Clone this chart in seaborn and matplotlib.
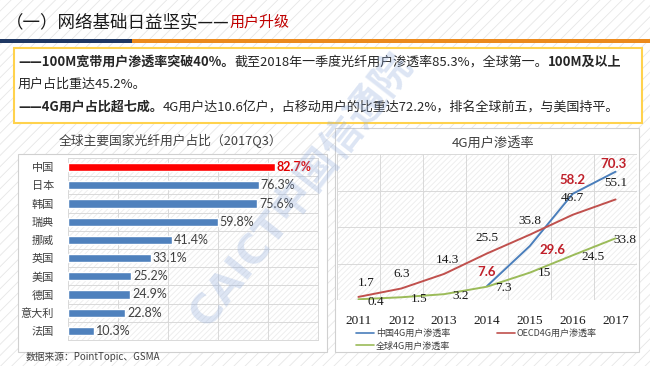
import matplotlib
matplotlib.use("Agg")
import matplotlib.pyplot as plt
from matplotlib.patches import Rectangle
from matplotlib.lines import Line2D
import seaborn as sns
import pandas as pd
import numpy as np

# data
countries = ["中国", "日本", "韩国", "瑞典", "挪威", "英国", "美国", "德国", "意大利", "法国"]
fiber_share = [82.7, 76.3, 75.6, 59.8, 41.4, 33.1, 25.2, 24.9, 22.8, 10.3]

years = [2011, 2012, 2013, 2014, 2015, 2016, 2017]
china_4g = [np.nan, np.nan, np.nan, 7.6, 29.6, 58.2, 70.3]
oecd_4g = [1.7, 6.3, 14.3, 25.5, 35.8, 46.7, 55.1]
global_4g = [0.4, 1.5, 3.2, 7.3, 15, 24.5, 33.8]
series_names = ["中国4G用户渗透率", "OECD4G用户渗透率", "全球4G用户渗透率"]

W, H = 650, 366
CJK = ["Noto Sans CJK SC", "DejaVu Sans"]
SERIF = ["Liberation Serif", "DejaVu Serif"]
LAT = ["Lato", "DejaVu Sans"]
TXT = "#262626"
GRID = "#d9d9d9"

sns.set_theme(style="white")
plt.rcParams["font.family"] = CJK
plt.rcParams["hatch.linewidth"] = 0.6


def fx(x):
    return x / W


def fy(y):
    return 1 - y / H


def box(fig, x0, y0, x1, y1, **kw):
    r = Rectangle((fx(x0), fy(y1)), fx(x1 - x0), (y1 - y0) / H,
                  transform=fig.transFigure, **kw)
    fig.patches.append(r)
    return r


def runs(fig, x, y, parts, size, color=TXT):
    # draw pieces of text one after another on one line
    rend = fig.canvas.get_renderer()
    xf = fx(x)
    for s, bold, col, sz in parts:
        t = fig.text(xf, fy(y), s, fontsize=sz or size, color=col or color,
                     fontweight="bold" if bold else "normal", va="center", ha="left",
                     family=CJK)
        xf += t.get_window_extent(rend).width / fig.bbox.width


fig = plt.figure(figsize=(6.5, 3.66), dpi=100)

# slide background with light stripes
box(fig, 0, 0, W, H, facecolor="white", edgecolor="#e6e6e6", lw=0, hatch="///", zorder=-10)

# title + coloured rule
runs(fig, 6, 22, [("（一）网络基础日益坚实——", False, "#1a1a1a", 12.6),
                  ("用户升级", False, "#c00000", 10.8)], 12)
box(fig, 0, 39, 132, 43, facecolor="#1f3864", lw=0, zorder=-4)
box(fig, 132, 39, W, 43, facecolor="#ec8a1c", lw=0, zorder=-4)

# yellow text box
box(fig, 14, 48, 642, 123, facecolor="white", edgecolor="#ffd24d", lw=1.5, zorder=-5)
runs(fig, 18, 62, [("——100M宽带用户渗透率突破40%。", True, None, None),
                   ("截至2018年一季度光纤用户渗透率85.3%，全球第一。", False, None, None),
                   ("100M及以上", True, None, None)], 9.4)
runs(fig, 18, 84, [("用户占比重达45.2%。", False, None, None)], 9.4)
runs(fig, 18, 107, [("——4G用户占比超七成。", True, None, None),
                    ("4G用户达10.6亿户，占移动用户的比重达72.2%，排名全球前五，与美国持平。",
                     False, None, None)], 9.4)

# chart frames
box(fig, 18, 154, 327, 352, facecolor="white", edgecolor="#d0d0d0", lw=0.8, zorder=-5)
box(fig, 335, 128, 639, 352, facecolor="white", edgecolor="#d0d0d0", lw=0.8, zorder=-5)

# ---- left: fibre share bar chart
ax1 = fig.add_axes([fx(68), fy(340), fx(318 - 68), (340 - 158) / H])
ax1.patch.set_alpha(0)
ax1.add_patch(Rectangle((0, 0), 1, 1, transform=ax1.transAxes, facecolor="white",
                        edgecolor="#ececec", lw=0, hatch="//////", zorder=-1))
df_bar = pd.DataFrame({"country": countries, "share": fiber_share})
bar_colors = ["#ff0000"] + ["#4f81bd"] * (len(countries) - 1)
sns.barplot(data=df_bar, x="share", y="country", hue="country", palette=bar_colors,
            legend=False, width=0.46, saturation=1, ax=ax1, zorder=3)
ax1.set_xlim(0, 100)
ax1.set_ylim(len(countries) - 0.5, -0.5)
ax1.set_xticks(range(0, 101, 20))
ax1.set_xticklabels([])
ax1.set_yticks(np.arange(-0.5, len(countries), 1.0), minor=True)
ax1.grid(True, axis="x", which="major", color=GRID, lw=0.7)
ax1.grid(True, axis="y", which="minor", color=GRID, lw=0.7)
ax1.grid(False, axis="y", which="major")
ax1.tick_params(length=0, which="both", labelsize=8, labelcolor="#404040", pad=10)
ax1.set_xlabel("")
ax1.set_ylabel("")
for sp in ax1.spines.values():
    sp.set_color(GRID)
    sp.set_linewidth(0.7)
for i, v in enumerate(fiber_share):
    first = i == 0
    ax1.annotate(f"{v}%", (v, i), xytext=(1.5, 0), textcoords="offset points",
                 va="center", ha="left", fontsize=9, family=LAT,
                 color="#e00000" if first else "#404040",
                 fontweight="bold" if first else "normal")
fig.text(fx(170), fy(141), "全球主要国家光纤用户占比（2017Q3）", ha="center", va="center",
         fontsize=9.2, color="#404040")
fig.text(fx(26), fy(357), "数据来源：PointTopic、GSMA", ha="left", va="center",
         fontsize=7, color="#404040")

# ---- right: 4G penetration lines
ax2 = fig.add_axes([fx(337), fy(300), fx(637 - 337), (300 - 154) / H])
ax2.patch.set_alpha(0)
ax2.add_patch(Rectangle((0, 0), 1, 1, transform=ax2.transAxes, facecolor="white",
                        edgecolor="#ececec", lw=0, hatch="//////", zorder=-1))
df_line = pd.DataFrame({
    "year": years * 3,
    "value": china_4g + oecd_4g + global_4g,
    "series": [series_names[0]] * 7 + [series_names[1]] * 7 + [series_names[2]] * 7,
})
line_colors = ["#4a7ebb", "#c0504d", "#9bbb59"]
sns.lineplot(data=df_line, x="year", y="value", hue="series", hue_order=series_names,
             palette=line_colors, lw=1.4, legend=False, ax=ax2, zorder=3)
ax2.set_xlim(2010.5, 2017.5)
ax2.set_ylim(0, 80)
ax2.set_xticks(years)
ax2.set_xticks(np.arange(2010.5, 2017.6, 0.5), minor=True)
ax2.set_yticks(range(0, 81, 20))
ax2.set_yticklabels([])
ax2.grid(True, axis="y", which="major", color=GRID, lw=0.7)
ax2.grid(True, axis="x", which="minor", color=GRID, lw=0.7)
ax2.tick_params(length=0, which="both", pad=11)
for lab in ax2.get_xticklabels():
    lab.set_family(SERIF)
    lab.set_fontsize(9.5)
    lab.set_color("#1a1a1a")
ax2.set_xlabel("")
ax2.set_ylabel("")
for sp in ax2.spines.values():
    sp.set_visible(False)

# data labels (offsets in pixels)
px = 0.72
oecd_off = [(8, 14), (0, 15), (3, 14), (0, 15), (0, 14), (0, 17), (0, 16)]
for x, v, (dx, dy) in zip(years, oecd_4g, oecd_off):
    ax2.annotate(f"{v:g}", (x, v), xytext=(dx * px, dy * px), textcoords="offset points",
                 ha="center", va="center", fontsize=9.5, family=SERIF, color="#1a1a1a",
                 annotation_clip=False)
glob_off = [(9, -3), (9, -2), (8, -2), (8, -1), (8, 0), (9, -2), (-2, -2)]
for x, v, (dx, dy) in zip(years, global_4g, glob_off):
    ax2.annotate(f"{v:g}", (x, v), xytext=(dx * px, dy * px), textcoords="offset points",
                 ha="left", va="center", fontsize=9.5, family=SERIF, color="#1a1a1a",
                 annotation_clip=False)
china_off = [None, None, None, (-10, 14, "left"), (10, -4, "left"), (0, 14, "center"),
             (-2, 8, "center")]
for x, v, off in zip(years, china_4g, china_off):
    if off is None:
        continue
    dx, dy, ha = off
    ax2.annotate(f"{v:g}", (x, v), xytext=(dx * px, dy * px), textcoords="offset points",
                 ha=ha, va="center", fontsize=9.5, family=LAT, fontweight="bold",
                 color="#c0202a", annotation_clip=False)

handles = [Line2D([], [], color=c, lw=1.2) for c in line_colors]
order = [0, 2, 1]
leg = ax2.legend([handles[i] for i in order], [series_names[i] for i in order],
                 loc="upper left", bbox_to_anchor=(fx(356), fy(329)),
                 bbox_transform=fig.transFigure, ncol=2, frameon=False, fontsize=6.5,
                 handlelength=2.0, handletextpad=0.2, columnspacing=5.2,
                 labelspacing=0.35, borderaxespad=0, borderpad=0)
for t in leg.get_texts():
    t.set_color("#404040")
fig.text(fx(493), fy(143), "4G用户渗透率", ha="center", va="center", fontsize=9.5,
         color="#404040")

# faint diagonal watermark
fig.text(fx(302), fy(190), "CAICT中国信通院", ha="center", va="center", rotation=52,
         rotation_mode="anchor", fontsize=29, fontweight="bold", color="#8eaadb",
         alpha=0.3, family=["DejaVu Sans", "Noto Sans CJK SC"], zorder=20)

fig.savefig("out.png", dpi=100)
